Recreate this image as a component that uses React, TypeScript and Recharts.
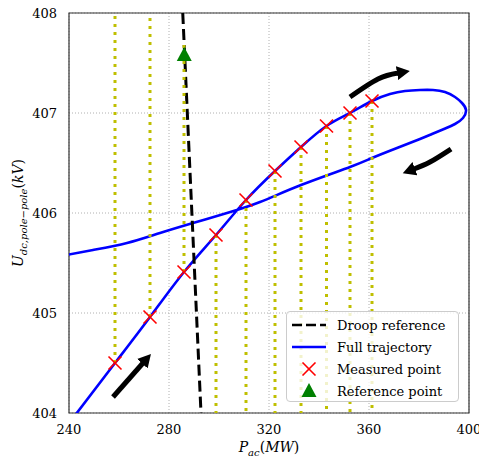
import React from 'react';
import {
  ComposedChart, Line, Scatter, XAxis, YAxis, CartesianGrid, ReferenceArea,
} from 'recharts';

// droop characteristic (two ends of the dashed line)
const droopP = [285.5, 292.8];
const droopU = [408, 404];

// measured operating points (red crosses)
const measuredP = [258.4, 272.4, 286.0, 298.8, 310.8, 322.4, 332.8, 343.0, 352.4, 361.2];
const measuredU = [404.5, 404.96, 405.41, 405.78, 406.13, 406.42, 406.66, 406.87, 407.0, 407.12];

// reference point (green triangle)
const refP = [286.1];
const refU = [407.58];

// full trajectory (blue): rising branch, loop at the top right, falling branch
const trajP = [
  241.6, 258.4, 272.4, 286.0, 298.8, 310.8, 322.4, 332.8, 343.0, 352.4, 361.2,
  368.4, 374.4, 380.4, 385.6, 390.4, 394.4, 397.2, 398.8, 397.6, 394.4, 390.0, 385.2, 380.4,
  371.2, 361.2, 352.4, 332.8, 316.4, 303.2, 289.6, 276.4, 263.2, 249.6, 238.0,
];
const trajU = [
  403.95, 404.5, 404.96, 405.41, 405.78, 406.13, 406.42, 406.66, 406.87, 407.0, 407.12,
  407.19, 407.22, 407.23, 407.23, 407.21, 407.16, 407.1, 407.03, 406.95, 406.89, 406.84, 406.79, 406.74,
  406.65, 406.55, 406.46, 406.28, 406.11, 406.0, 405.9, 405.8, 405.7, 405.63, 405.575,
];

// direction arrows
const arrow1P = [257.6, 269.6];
const arrow1U = [404.16, 404.5];
const arrow2P = [352.4, 363.6, 371.6];
const arrow2U = [407.16, 407.34, 407.4];
const arrow3P = [392.8, 384.4, 378.0];
const arrow3U = [406.64, 406.51, 406.44];

const xTicks = [240, 280, 320, 360, 400];
const yTicks = [404, 405, 406, 407, 408];

const zip = (ps: number[], us: number[]) => ps.map((p, i) => ({ p, u: us[i] }));
const droopAt = (p: number) =>
  droopU[0] + ((p - droopP[0]) * (droopU[1] - droopU[0])) / (droopP[1] - droopP[0]);

const droopData = zip(droopP, droopU);
const trajData = zip(trajP, trajU);
const measuredData = zip(measuredP, measuredU);
const refData = zip(refP, refU);
const arrows = [zip(arrow1P, arrow1U), zip(arrow2P, arrow2U), zip(arrow3P, arrow3U)];
// yellow guides: from each measured point vertically to the droop line
const guides = measuredP.map((p, i) => [{ p, u: measuredU[i] }, { p, u: droopAt(p) }]);

const FONT = 'DejaVu Serif';

const Cross = ({ cx, cy }: any) => (
  <g stroke="#ff0000" strokeWidth={1.6}>
    <line x1={cx - 6.5} y1={cy - 6.5} x2={cx + 6.5} y2={cy + 6.5} />
    <line x1={cx - 6.5} y1={cy + 6.5} x2={cx + 6.5} y2={cy - 6.5} />
  </g>
);

const Tri = ({ cx, cy }: any) => (
  <path d={`M${cx},${cy - 8} L${cx - 7.5},${cy + 6} L${cx + 7.5},${cy + 6} Z`} fill="#008000" />
);

const XLabel = ({ viewBox }: any) => (
  <text x={viewBox.x + viewBox.width / 2} y={452} textAnchor="middle" fontFamily={FONT} fontSize={14} fill="#000">
    <tspan fontStyle="italic">P</tspan>
    <tspan fontStyle="italic" fontSize={10} dy={4}>ac</tspan>
    <tspan dy={-4}>(</tspan>
    <tspan fontStyle="italic">MW</tspan>
    <tspan>)</tspan>
  </text>
);

const YLabel = ({ viewBox }: any) => {
  const cy = viewBox.y + viewBox.height / 2;
  return (
    <text x={0} y={0} transform={`translate(23, ${cy}) rotate(-90)`} textAnchor="middle" fontFamily={FONT} fontSize={14} fill="#000">
      <tspan fontStyle="italic">U</tspan>
      <tspan fontStyle="italic" fontSize={10} dy={4}>dc,pole−pole</tspan>
      <tspan dy={-4}>(</tspan>
      <tspan fontStyle="italic">kV</tspan>
      <tspan>)</tspan>
    </text>
  );
};

const legendRow = { display: 'flex', alignItems: 'center', height: 22 } as const;

const ChartLegend = () => (
  <div style={{
    position: 'absolute', left: 286, top: 311, width: 173, height: 91,
    border: '1px solid #cccccc', borderRadius: 4, background: 'rgba(255,255,255,0.8)',
    fontFamily: FONT, fontSize: 13, color: '#000', padding: '2px 0 0 0', boxSizing: 'border-box',
  }}>
    <div style={legendRow}>
      <svg width={50} height={14}><line x1={5} y1={7} x2={39} y2={7} stroke="#000" strokeWidth={2.5} strokeDasharray="10 4" /></svg>
      <span>Droop reference</span>
    </div>
    <div style={legendRow}>
      <svg width={50} height={14}><line x1={5} y1={7} x2={39} y2={7} stroke="#0000ff" strokeWidth={2.5} /></svg>
      <span>Full trajectory</span>
    </div>
    <div style={legendRow}>
      <svg width={50} height={14}><Cross cx={22} cy={7} /></svg>
      <span>Measured point</span>
    </div>
    <div style={legendRow}>
      <svg width={50} height={16}><Tri cx={22} cy={8} /></svg>
      <span>Reference point</span>
    </div>
  </div>
);

export default function App() {
  return (
    <div style={{ position: 'absolute', left: 0, top: 0, width: 479, height: 459, background: '#fff' }}>
      <ComposedChart width={479} height={459} margin={{ top: 13, right: 10, left: 9, bottom: 16 }}>
        <defs>
          <marker id="arrowHead" markerUnits="userSpaceOnUse" markerWidth={14} markerHeight={16} refX={1} refY={8} orient="auto">
            <path d="M0,1 L13,8 L0,15 Z" fill="#000" />
          </marker>
        </defs>
        <CartesianGrid stroke="#b0b0b0" strokeDasharray="1 2" />
        <XAxis type="number" dataKey="p" domain={[240, 400]} ticks={xTicks} allowDataOverflow
          axisLine={false} tickLine={false} height={30} tickMargin={6}
          tick={{ fontFamily: FONT, fontSize: 13, fill: '#000' }} label={<XLabel />} />
        <YAxis type="number" dataKey="u" domain={[404, 408]} ticks={yTicks} allowDataOverflow
          axisLine={false} tickLine={false} width={60} tickMargin={6}
          tick={{ fontFamily: FONT, fontSize: 13, fill: '#000' }} label={<YLabel />} />
        <Line data={trajData} dataKey="u" type="natural" stroke="#0000ff" strokeWidth={2.6} dot={false} isAnimationActive={false} />
        <Line data={droopData} dataKey="u" type="linear" stroke="#000" strokeWidth={3} strokeDasharray="11 5" dot={false} isAnimationActive={false} />
        {arrows.map((a, i) => (
          <Line key={`arrow-${i}`} data={a} dataKey="u" type="natural" stroke="#000" strokeWidth={5}
            dot={false} isAnimationActive={false} markerEnd="url(#arrowHead)" />
        ))}
        <Scatter data={measuredData} shape={<Cross />} isAnimationActive={false} />
        <Scatter data={refData} shape={<Tri />} isAnimationActive={false} />
        {guides.map((g, i) => (
          <Line key={`guide-${i}`} data={g} dataKey="u" type="linear" stroke="#bfbf00" strokeWidth={3}
            strokeDasharray="3 5" dot={false} isAnimationActive={false} />
        ))}
        <ReferenceArea x1={240} x2={400} y1={404} y2={408} fill="none" stroke="#333" strokeWidth={1.2} ifOverflow="visible" />
      </ComposedChart>
      <ChartLegend />
    </div>
  );
}
